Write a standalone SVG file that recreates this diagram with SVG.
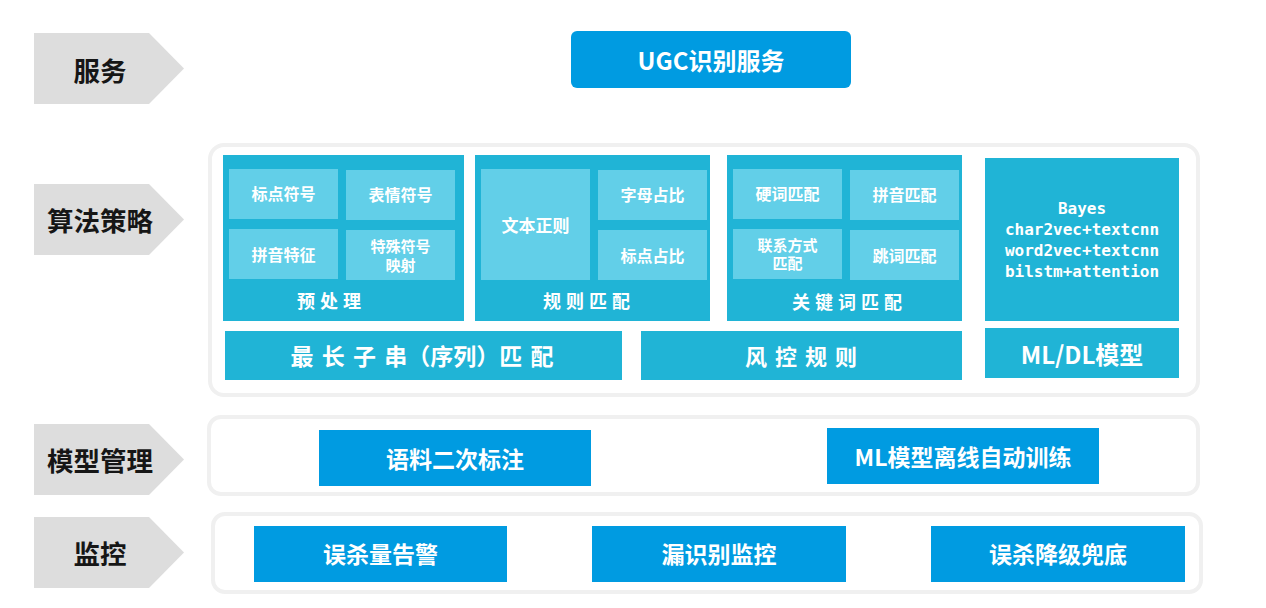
<svg xmlns="http://www.w3.org/2000/svg" width="1266" height="608" viewBox="0 0 1266 608">
<style>
text{font-family:"Noto Sans CJK SC","Liberation Sans",sans-serif;font-weight:bold;text-anchor:middle;dominant-baseline:central}
.lbl{fill:#DDDDDD}
.lt{font-size:26.5px;fill:#161616}
.cont{fill:#FFFFFF;stroke:#F0F0F0;stroke-width:4}
.btn{fill:#009BE1}
.bt{font-size:23px;fill:#FFFFFF}
.pan{fill:#20B4D6}
.inn{fill:#62CFE8}
.it{font-size:16px;fill:#FFFFFF}
.it2{font-size:15px;fill:#FFFFFF}
.pt{font-size:18px;fill:#FFFFFF;letter-spacing:5px}
.bar{font-size:22px;fill:#FFFFFF}
.mono{font-family:"DejaVu Sans Mono","Liberation Mono",monospace;font-size:16px;fill:#FFFFFF}
</style>
<g id="labels">
<g id="label-service"><polygon class="lbl" points="34,33 149,33 184,68.5 149,104 34,104"/><text class="lt" x="100" y="69">服务</text></g>
<g id="label-algo"><polygon class="lbl" points="34,184 149,184 184,219.5 149,255 34,255"/><text class="lt" x="100" y="219">算法策略</text></g>
<g id="label-model"><polygon class="lbl" points="34,424 149,424 184,459.5 149,495 34,495"/><text class="lt" x="100" y="459">模型管理</text></g>
<g id="label-monitor"><polygon class="lbl" points="34,517 149,517 184,552.5 149,588 34,588"/><text class="lt" x="100" y="552">监控</text></g>
</g>
<g id="ugc"><rect class="btn" x="571" y="31" width="280" height="57" rx="6"/><text class="bt" x="711" y="59" style="font-size:24px">UGC识别服务</text></g>
<g id="algo-container"><rect class="cont" x="210" y="145" width="988" height="250" rx="14"/></g>
<g id="preprocess">
<rect class="pan" x="223" y="155" width="241" height="166"/>
<rect class="inn" x="229" y="169" width="109" height="50"/><text class="it" x="283.5" y="193">标点符号</text>
<rect class="inn" x="346" y="170" width="109" height="50"/><text class="it" x="400.5" y="194">表情符号</text>
<rect class="inn" x="229" y="229" width="109" height="50"/><text class="it" x="283.5" y="254">拼音特征</text>
<rect class="inn" x="346" y="230" width="109" height="50"/><text class="it2" x="400.5" y="245.5">特殊符号</text><text class="it2" x="400.5" y="264">映射</text>
<text class="pt" x="331.5" y="300">预处理</text>
</g>
<g id="rule-match">
<rect class="pan" x="475" y="155" width="235" height="166"/>
<rect class="inn" x="481" y="169" width="109" height="111"/><text class="it" x="535.5" y="224" style="font-size:17px">文本正则</text>
<rect class="inn" x="598" y="170" width="109" height="50"/><text class="it" x="652.5" y="194">字母占比</text>
<rect class="inn" x="598" y="230" width="109" height="50"/><text class="it" x="652.5" y="255">标点占比</text>
<text class="pt" x="589" y="300">规则匹配</text>
</g>
<g id="keyword-match">
<rect class="pan" x="727" y="155" width="235" height="166"/>
<rect class="inn" x="733" y="169" width="109" height="50"/><text class="it" x="787.5" y="193">硬词匹配</text>
<rect class="inn" x="850" y="170" width="109" height="50"/><text class="it" x="904.5" y="194">拼音匹配</text>
<rect class="inn" x="733" y="229" width="109" height="50"/><text class="it2" x="787.5" y="244">联系方式</text><text class="it2" x="787.5" y="262.5">匹配</text>
<rect class="inn" x="850" y="230" width="109" height="50"/><text class="it" x="904.5" y="255">跳词匹配</text>
<text class="pt" x="849.5" y="301">关键词匹配</text>
</g>
<g id="ml-models">
<rect class="pan" x="985" y="158" width="194" height="163"/>
<text class="mono" x="1082" y="208">Bayes</text>
<text class="mono" x="1082" y="229">char2vec+textcnn</text>
<text class="mono" x="1082" y="250">word2vec+textcnn</text>
<text class="mono" x="1082" y="271">bilstm+attention</text>
</g>
<g id="longest-substring"><rect class="pan" x="225" y="331" width="397" height="49"/><text class="bar" x="422" y="355" style="font-size:23px;word-spacing:3px">最 长 子 串（序列）匹 配</text></g>
<g id="risk-rules"><rect class="pan" x="641" y="331" width="321" height="49"/><text class="bar" x="805" y="355" style="letter-spacing:8px">风控规则</text></g>
<g id="mldl"><rect class="pan" x="985" y="328" width="194" height="50"/><text class="bar" x="1082" y="353" style="font-size:24px">ML/DL模型</text></g>
<g id="model-container"><rect class="cont" x="209" y="417" width="989" height="77" rx="12"/></g>
<g id="corpus"><rect class="btn" x="319" y="430" width="272" height="56"/><text class="bt" x="455" y="458">语料二次标注</text></g>
<g id="ml-train"><rect class="btn" x="827" y="428" width="272" height="56"/><text class="bt" x="963" y="456">ML模型离线自动训练</text></g>
<g id="monitor-container"><rect class="cont" x="213" y="514" width="988" height="78" rx="12"/></g>
<g id="false-kill-alert"><rect class="btn" x="254" y="526" width="253" height="56"/><text class="bt" x="380.5" y="553">误杀量告警</text></g>
<g id="miss-monitor"><rect class="btn" x="592" y="526" width="254" height="56"/><text class="bt" x="719" y="553">漏识别监控</text></g>
<g id="fallback"><rect class="btn" x="931" y="526" width="254" height="56"/><text class="bt" x="1058" y="553">误杀降级兜底</text></g>
<g id="connectors"></g>
</svg>
